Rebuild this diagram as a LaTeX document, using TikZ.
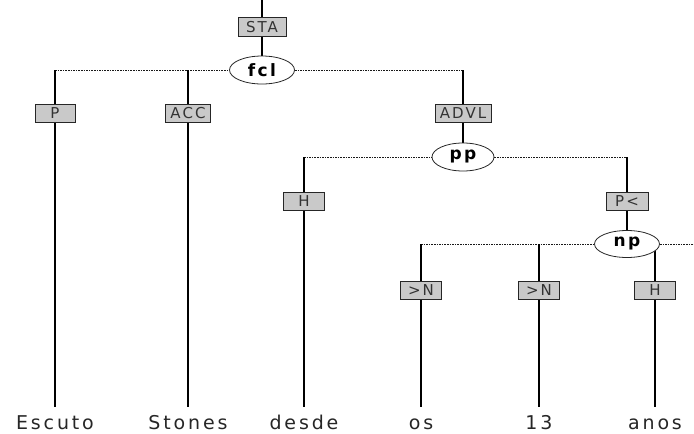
\documentclass[tikz,border=0pt]{standalone}
\usepackage{fontspec}
\setmainfont{DejaVu Sans}
\newfontfamily\wordfont[LetterSpace=15]{DejaVu Sans}
\newfontfamily\labfont[LetterSpace=14]{DejaVu Sans}
\newfontfamily\phfont[LetterSpace=14]{DejaVu Sans}
\usetikzlibrary{shapes.geometric,backgrounds}
\tikzset{
  fn/.style={draw=black!85, line width=0.8pt, fill=gray!42, minimum width=40pt, minimum height=18pt,
    inner sep=1pt, text height=10.8pt, text depth=0pt, font=\labfont\fontsize{15}{16}\selectfont, text=black!80},
  ph/.style={ellipse, draw=black!85, line width=0.8pt, fill=white, minimum width=64pt, minimum height=28pt,
    inner sep=0pt, font=\phfont\bfseries\fontsize{17}{18}\selectfont},
  wd/.style={anchor=base, inner xsep=0pt, inner ysep=0pt, text height=22pt, text depth=0pt,
    font=\wordfont\fontsize{19}{21}\selectfont, text=black!85},
  vl/.style={draw=black, line width=1.2pt},
  hl/.style={draw=black!90, line width=1pt, dash pattern=on 1.6pt off 1pt}
}
\begin{document}
\begin{tikzpicture}[x=1pt,y=-1pt]
\useasboundingbox (0,0) rectangle (694,434);
\coordinate (top) at (262,0);
\node[fn, minimum width=48pt, minimum height=19pt] (sta) at (262,27) {STA};
\node[ph, minimum width=65pt] (fcl) at (262,70) {fcl};
\coordinate (j1) at (55,70);
\coordinate (j2) at (188,70);
\coordinate (j3) at (463,70);
\node[fn] (p) at (55,113) {P};
\node[fn, minimum width=45pt] (acc) at (188,113) {ACC};
\node[fn, minimum width=56pt] (advl) at (463,113) {ADVL};
\node[ph, minimum width=62pt] (pp) at (463,157) {pp};
\coordinate (k1) at (304,157);
\coordinate (k2) at (627,157);
\node[fn, minimum width=41pt] (h1) at (304,201) {H};
\node[fn, minimum width=42pt] (pl) at (627,201) {P<};
\node[ph, minimum width=65pt, minimum height=27pt] (np) at (627,244) {np};
\coordinate (m1) at (421,244);
\coordinate (m2) at (539,244);
\coordinate (m4) at (694,244);
\node[fn, minimum width=41pt] (n1) at (421,290) {>N};
\node[fn, minimum width=41pt] (n2) at (539,290) {>N};
\node[fn, minimum width=41pt] (h2) at (655,290) {H};
\node[wd] (w1) at (55,429) {Escuto};
\node[wd] (w2) at (188,429) {Stones};
\node[wd] (w3) at (304,429) {desde};
\node[wd] (w4) at (421,429) {os};
\node[wd] (w5) at (539,429) {13};
\node[wd] (w6) at (655,429) {anos};
\begin{pgfonlayer}{background}
\draw[vl] (top) -- (sta) -- (fcl);
\draw[hl] (j1) -- (fcl.west) (fcl.east) -- (j3);
\draw[vl] (j1) -- (p) (j2) -- (acc) (j3) -- (advl);
\draw[vl] (p) -- (w1.north) (acc) -- (w2.north);
\draw[vl] (advl) -- (pp);
\draw[hl] (k1) -- (pp.west) (pp.east) -- (k2);
\draw[vl] (k1) -- (h1) (k2) -- (pl) -- (np);
\draw[vl] (h1) -- (w3.north);
\draw[hl] (m1) -- (np.west) (np.east) -- (m4);
\draw[vl] (m1) -- (n1) (m2) -- (n2) (h2 |- np) -- (h2);
\draw[vl] (n1) -- (w4.north) (n2) -- (w5.north) (h2) -- (w6.north);
\end{pgfonlayer}
\end{tikzpicture}
\end{document}
